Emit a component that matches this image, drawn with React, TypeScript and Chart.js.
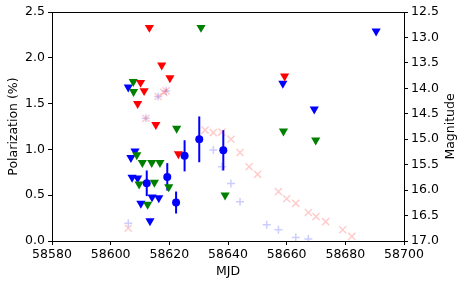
import React, { useEffect, useRef } from "react";
import { Chart, registerables } from "chart.js";

Chart.register(...registerables);

// Polarization measurements (MJD, %, error)
const polMjd = [58612.3, 58619.3, 58622.3, 58625.2, 58630.2, 58638.4];
const polVal = [0.63, 0.70, 0.42, 0.93, 1.11, 0.99];
const polErr = [0.14, 0.15, 0.12, 0.17, 0.25, 0.22];

// Upper limits (red)
const redMjd = [58613.2, 58617.4, 58620.2, 58610.2, 58611.4, 58609.2, 58615.4, 58623.1, 58659.3];
const redVal = [2.33, 1.92, 1.78, 1.73, 1.64, 1.50, 1.27, 0.95, 1.80];

// Upper limits (green)
const greenMjd = [58607.7, 58607.8, 58622.5, 58630.8, 58658.9, 58639.0, 58669.9, 58608.9, 58610.8, 58614.0, 58616.8, 58609.7, 58614.9, 58619.8, 58612.6];
const greenVal = [1.74, 1.63, 1.23, 2.33, 1.20, 0.50, 1.10, 0.94, 0.855, 0.855, 0.855, 0.62, 0.64, 0.59, 0.40];

// Upper limits (blue)
const blueMjd = [58606.0, 58658.7, 58690.5, 58669.4, 58608.3, 58606.9, 58607.3, 58609.2, 58610.3, 58614.1, 58616.4, 58613.4];
const blueVal = [1.68, 1.72, 2.29, 1.44, 0.98, 0.91, 0.695, 0.685, 0.41, 0.48, 0.47, 0.22];

// Magnitudes (right axis), pink crosses
const magXMjd = [58606.0, 58612.0, 58616.2, 58618.1, 58618.9, 58632.2, 58635.0, 58637.9, 58641.0, 58644.1, 58647.2, 58650.1, 58657.2, 58660.0, 58663.1, 58667.4, 58670.0, 58673.3, 58679.1, 58682.2];
const magXVal = [16.75, 14.59, 14.16, 14.08, 14.05, 14.82, 14.87, 14.86, 15.00, 15.26, 15.54, 15.69, 16.03, 16.17, 16.26, 16.44, 16.52, 16.62, 16.78, 16.91];

// Magnitudes (right axis), light-blue plus
const magPMjd = [58606.0, 58612.0, 58616.2, 58618.9, 58635.0, 58637.9, 58641.0, 58644.1, 58653.2, 58657.2, 58663.1, 58667.4];
const magPVal = [16.65, 14.59, 14.16, 14.05, 15.21, 15.54, 15.87, 16.23, 16.68, 16.78, 16.93, 16.96];

const xTicks = [58580, 58600, 58620, 58640, 58660, 58680, 58700];

const pts = (xs: number[], ys: number[]) => xs.map((x, i) => ({ x, y: ys[i] }));

const FONT = { family: "'DejaVu Sans', sans-serif", size: 12.5 };

export default function App() {
  const ref = useRef<HTMLCanvasElement | null>(null);

  useEffect(() => {
    if (!ref.current) return;
    const errPlugin = {
      id: "errbars",
      beforeDatasetsDraw(chart: any) {
        const { ctx, scales } = chart;
        ctx.save();
        ctx.strokeStyle = "#0000ff";
        ctx.lineWidth = 2;
        polMjd.forEach((m, i) => {
          const px = scales.x.getPixelForValue(m);
          const y1 = scales.y.getPixelForValue(polVal[i] - polErr[i]);
          const y2 = scales.y.getPixelForValue(polVal[i] + polErr[i]);
          ctx.beginPath();
          ctx.moveTo(px, y1);
          ctx.lineTo(px, y2);
          ctx.stroke();
        });
        ctx.restore();
      },
      afterDraw(chart: any) {
        const { ctx, chartArea } = chart;
        ctx.save();
        ctx.strokeStyle = "#000";
        ctx.lineWidth = 1;
        ctx.strokeRect(
          Math.round(chartArea.left) + 0.5,
          Math.round(chartArea.top) + 0.5,
          Math.round(chartArea.right - chartArea.left),
          Math.round(chartArea.bottom - chartArea.top)
        );
        // right axis title, reading bottom-to-top like matplotlib
        const r = chart.scales.y1;
        ctx.translate(r.right - 13, (chartArea.top + chartArea.bottom) / 2);
        ctx.rotate(-Math.PI / 2);
        ctx.fillStyle = "#000";
        ctx.font = `${FONT.size}px ${FONT.family}`;
        ctx.textAlign = "center";
        ctx.textBaseline = "middle";
        ctx.fillText("Magnitude", 0, 0);
        ctx.restore();
      },
    };

    const chart = new Chart(ref.current, {
      type: "scatter",
      data: {
        datasets: [
          {
            label: "pol",
            data: pts(polMjd, polVal),
            yAxisID: "y",
            pointStyle: "circle",
            pointRadius: 4,
            backgroundColor: "#0000ff",
            borderColor: "#0000ff",
            borderWidth: 0,
          },
          {
            label: "red",
            data: pts(redMjd, redVal),
            yAxisID: "y",
            pointStyle: "triangle",
            rotation: 180,
            pointRadius: 5.3,
            backgroundColor: "#ff0000",
            borderColor: "#ff0000",
            borderWidth: 0,
          },
          {
            label: "green",
            data: pts(greenMjd, greenVal),
            yAxisID: "y",
            pointStyle: "triangle",
            rotation: 180,
            pointRadius: 5.3,
            backgroundColor: "#008000",
            borderColor: "#008000",
            borderWidth: 0,
          },
          {
            label: "blue",
            data: pts(blueMjd, blueVal),
            yAxisID: "y",
            pointStyle: "triangle",
            rotation: 180,
            pointRadius: 5.3,
            backgroundColor: "#0000ff",
            borderColor: "#0000ff",
            borderWidth: 0,
          },
          {
            label: "magx",
            data: pts(magXMjd, magXVal),
            yAxisID: "y1",
            pointStyle: "crossRot",
            pointRadius: 5,
            backgroundColor: "rgba(255,0,0,0.2)",
            borderColor: "rgba(255,0,0,0.2)",
            borderWidth: 1.5,
          },
          {
            label: "magp",
            data: pts(magPMjd, magPVal),
            yAxisID: "y1",
            pointStyle: "cross",
            pointRadius: 4,
            backgroundColor: "rgba(0,0,255,0.2)",
            borderColor: "rgba(0,0,255,0.2)",
            borderWidth: 1.5,
          },
        ],
      },
      options: {
        responsive: false,
        animation: false,
        devicePixelRatio: 1,
        layout: { padding: { top: 12, left: 0, right: 0, bottom: 0 } },
        plugins: { legend: { display: false }, tooltip: { enabled: false } },
        scales: {
          x: {
            type: "linear",
            min: 58580,
            max: 58700,
            afterBuildTicks: (s: any) => {
              s.ticks = xTicks.map((v) => ({ value: v }));
            },
            afterFit: (s: any) => {
              s.height = 44;
            },
            ticks: { color: "#000", font: FONT, padding: 2, maxRotation: 0, autoSkip: false, callback: (v: any) => String(Math.round(Number(v))) },
            grid: { drawOnChartArea: false, drawTicks: true, tickLength: 4, color: "#000" },
            border: { display: true, color: "#000" },
            title: { display: true, text: "MJD", color: "#000", font: FONT, padding: { top: 2, bottom: 6 } },
          },
          y: {
            type: "linear",
            position: "left",
            min: 0,
            max: 2.5,
            ticks: { stepSize: 0.5, color: "#000", font: FONT, padding: 3, callback: (v: any) => Number(v).toFixed(1) },
            afterFit: (s: any) => {
              s.width = 52;
            },
            grid: { drawOnChartArea: false, drawTicks: true, tickLength: 4, color: "#000" },
            border: { display: true, color: "#000" },
            title: { display: true, text: "Polarization (%)", color: "#000", font: FONT, padding: { top: 6, bottom: 2 } },
          },
          y1: {
            type: "linear",
            position: "right",
            reverse: true,
            min: 12.5,
            max: 17.0,
            ticks: { stepSize: 0.5, color: "#000", font: FONT, padding: 3, callback: (v: any) => Number(v).toFixed(1) },
            afterFit: (s: any) => {
              s.width = 60;
            },
            grid: { drawOnChartArea: false, drawTicks: true, tickLength: 4, color: "#000" },
            border: { display: true, color: "#000" },
            title: { display: false },
          },
        },
      },
      plugins: [errPlugin],
    } as any);
    return () => chart.destroy();
  }, []);

  return (
    <div style={{ position: "fixed", left: 0, top: 0, width: 464, height: 285, background: "#fff" }}>
      <canvas ref={ref} width={464} height={285} style={{ width: 464, height: 285, display: "block" }} />
    </div>
  );
}
